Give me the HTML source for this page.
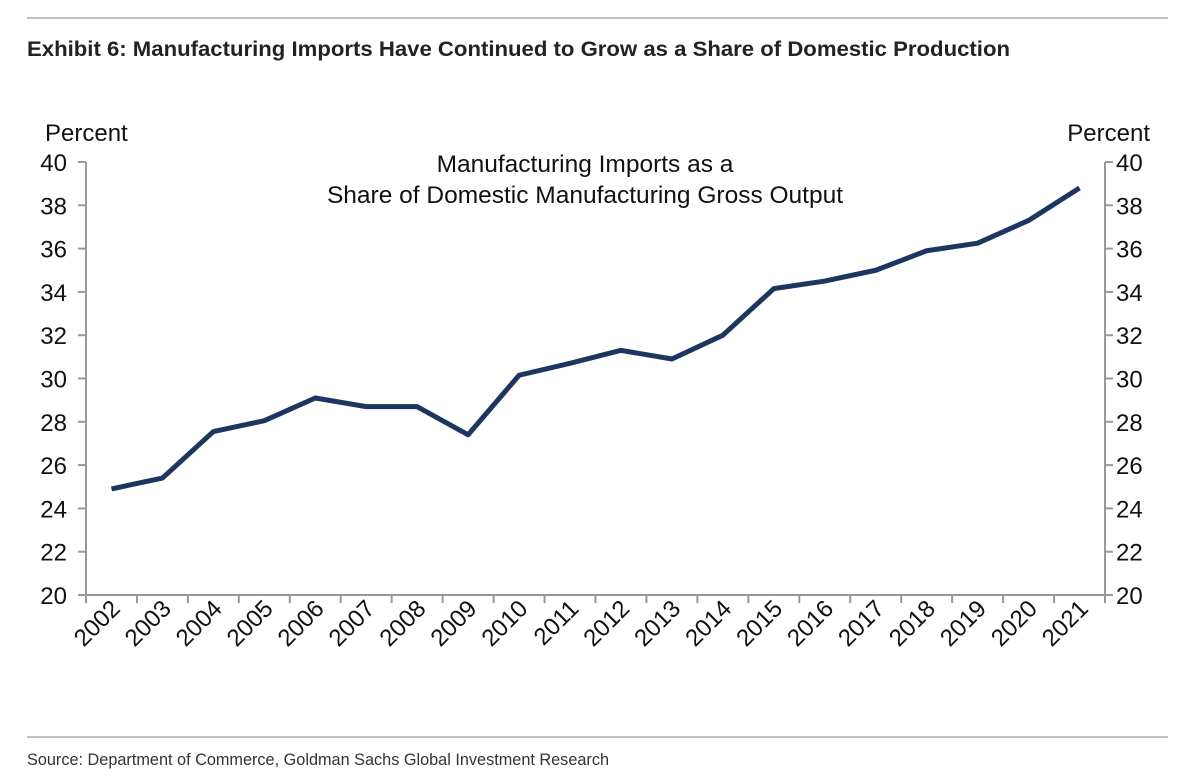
<!DOCTYPE html>
<html><head><meta charset="utf-8"><style>
body{margin:0;background:#fff;}
svg{display:block;font-family:"Liberation Sans",Arial,sans-serif;}
</style></head><body>
<svg id="chart" width="1200" height="778" viewBox="0 0 1200 778">
<line x1="27" y1="18" x2="1168" y2="18" stroke="#aaa" stroke-width="1.5"/>
<text x="27" y="56" font-size="21" font-weight="bold" fill="#222" textLength="983" lengthAdjust="spacingAndGlyphs">Exhibit 6: Manufacturing Imports Have Continued to Grow as a Share of Domestic Production</text>
<text x="45" y="141" font-size="24" fill="#111">Percent</text>
<text x="1150" y="141" font-size="24" fill="#111" text-anchor="end">Percent</text>
<text x="585" y="172" font-size="24.5" fill="#111" text-anchor="middle">Manufacturing Imports as a</text>
<text x="585" y="203" font-size="24.5" fill="#111" text-anchor="middle">Share of Domestic Manufacturing Gross Output</text>
<g id="axes"></g>
<g id="series"></g>
<line x1="27" y1="737" x2="1168" y2="737" stroke="#aaa" stroke-width="1.5"/>
<text x="27" y="765" font-size="17" fill="#333" textLength="582" lengthAdjust="spacingAndGlyphs">Source: Department of Commerce, Goldman Sachs Global Investment Research</text>
</svg>
<script>
const years = ["2002","2003","2004","2005","2006","2007","2008","2009","2010","2011","2012","2013","2014","2015","2016","2017","2018","2019","2020","2021"];
const importShare = [24.9,25.4,27.55,28.05,29.1,28.7,28.7,27.4,30.15,30.7,31.3,30.9,32.0,34.15,34.5,35.0,35.9,36.25,37.3,38.8];
const yTicks = [20,22,24,26,28,30,32,34,36,38,40];

const NS="http://www.w3.org/2000/svg";
const L=86,R=1105,T=162,B=595,yMin=20,yMax=40;
const band=(R-L)/years.length;
const xS=i=>L+band*(i+0.5);
const yS=v=>B-(v-yMin)/(yMax-yMin)*(B-T);
function mk(tag,attrs,parent){const e=document.createElementNS(NS,tag);for(const k in attrs)e.setAttribute(k,attrs[k]);parent.appendChild(e);return e;}
const ax=document.getElementById('axes'), se=document.getElementById('series');
const gc="#999";
let e;
e=mk('line',{x1:L,y1:T,x2:L,y2:B,stroke:gc,'stroke-width':2},ax);


e=mk('line',{x1:R,y1:T,x2:R,y2:B,stroke:gc,'stroke-width':2},ax);


e=mk('line',{x1:L-8,y1:B,x2:R+8,y2:B,stroke:gc,'stroke-width':2},ax);


yTicks.forEach(v=>{
  const y=yS(v);
  mk('line',{x1:L-8,y1:y,x2:L,y2:y,stroke:gc,'stroke-width':2},ax);
  mk('line',{x1:R,y1:y,x2:R+8,y2:y,stroke:gc,'stroke-width':2},ax);
  let t=mk('text',{x:L-19,y:y+9,'font-size':24,'text-anchor':'end',fill:'#111'},ax);
  t.textContent=v;
  
  
  t=mk('text',{x:R+11,y:y+9,'font-size':24,fill:'#111'},ax);
  t.textContent=v;
  
  
});
for(let i=0;i<=years.length;i++){
  const x=L+band*i;
  mk('line',{x1:x,y1:B,x2:x,y2:B+8,stroke:gc,'stroke-width':2},ax);
}
years.forEach((yr,i)=>{
  const x=xS(i)+10,y=B+15;
  const t=mk('text',{x:x,y:y,'font-size':24,'text-anchor':'end',fill:'#111',transform:`rotate(-45 ${x} ${y})`},ax);
  t.textContent=yr;
  
  
});
const pts=importShare.map((v,i)=>xS(i)+','+yS(v)).join(' ');
const line=mk('polyline',{points:pts,fill:'none',stroke:'#1c3660','stroke-width':5,'stroke-linejoin':'round'},se);


</script>
</body></html>
